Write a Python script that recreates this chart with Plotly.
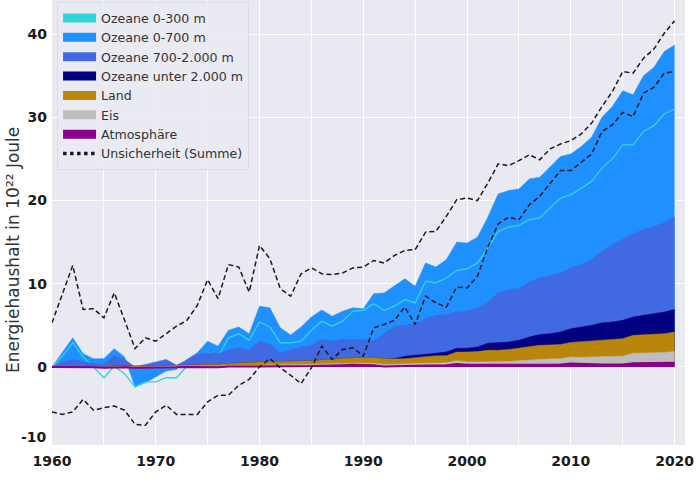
import plotly.graph_objects as go

# all values, in 10^22 J, each series is the cumulated top of its layer
years = list(range(1960, 2021))

total_0_700 = [0, 1.8, 3.5, 1.6, 1.0, 1.0, 2.2, 1.2, -2.4, -1.9,
               -1.2, -0.5, -0.3, 0.9, 1.7, 3.1, 2.5, 4.4, 4.8, 4.0,
               7.3, 7.1, 4.7, 3.85, 4.8, 6.0, 6.85, 6.1, 6.7, 7.1,
               7.0, 8.8, 8.9, 9.7, 10.6, 9.7, 12.5, 12.0, 12.9, 15.0,
               14.9, 15.6, 18.0, 20.8, 21.2, 21.4, 22.6, 22.8, 24.1, 25.3,
               25.6, 26.5, 27.6, 30.0, 31.3, 33.2, 32.7, 35.0, 36.0, 37.9,
               38.7]
total_0_300 = [0, 1.3, 2.9, 1.2, 0.0, -1.3, 0.1, -0.8, -2.4, -1.8,
               -1.8, -1.3, -1.3, 0.1, 0.5, 1.8, 1.2, 3.5, 4.0, 3.2,
               5.4, 4.8, 2.9, 2.9, 3.1, 4.4, 5.5, 4.9, 5.5, 6.7,
               6.8, 7.6, 6.8, 7.3, 8.1, 7.7, 10.3, 10.1, 10.7, 11.6,
               11.8, 12.5, 14.3, 16.3, 16.8, 17.0, 17.7, 17.9, 19.1, 20.3,
               20.7, 21.5, 22.3, 23.9, 25.0, 26.7, 26.7, 28.3, 29.0, 30.4,
               31.0]
total_700_2000 = [0, 0.6, 0.9, 0.6, 0.4, 0.3, 1.3, 0.9, 0.0, 0.3,
                  0.6, 0.9, 0.2, 0.8, 1.5, 1.7, 1.6, 2.0, 2.3, 2.0,
                  3.1, 2.7, 1.7, 2.0, 2.4, 2.6, 3.3, 3.1, 3.3, 3.3,
                  3.3, 3.1, 4.0, 4.9, 5.0, 5.2, 5.8, 6.2, 6.3, 6.6,
                  6.7, 7.1, 7.8, 8.9, 9.3, 9.4, 10.2, 10.7, 11.0, 11.3,
                  11.9, 12.3, 12.9, 13.9, 14.7, 15.4, 16.0, 16.5, 16.9, 17.3,
                  18.0]
total_unter_2000 = [0, 0, 0, 0, 0, 0, 0.1, 0.1, 0.1, 0.1,
                    0.15, 0.15, 0.2, 0.2, 0.25, 0.3, 0.3, 0.4, 0.45, 0.5,
                    0.6, 0.7, 0.65, 0.7, 0.7, 0.75, 0.85, 0.9, 1.05, 1.1,
                    1.15, 1.15, 1.0, 1.0, 1.3, 1.4, 1.55, 1.65, 1.8, 2.25,
                    2.25, 2.4, 2.85, 2.9, 3.0, 3.2, 3.6, 3.9, 4.0, 4.2,
                    4.6, 4.8, 5.0, 5.3, 5.4, 5.6, 6.0, 6.2, 6.4, 6.6,
                    6.9]
total_land = [0, 0, 0, 0, 0, 0, 0.1, 0.1, 0.1, 0.1,
              0.15, 0.15, 0.2, 0.2, 0.25, 0.3, 0.3, 0.4, 0.45, 0.5,
              0.6, 0.7, 0.65, 0.7, 0.7, 0.75, 0.85, 0.9, 1.05, 1.1,
              1.15, 1.15, 1.0, 0.95, 1.0, 1.1, 1.25, 1.35, 1.35, 1.8,
              1.8, 1.85, 2.0, 2.0, 2.1, 2.25, 2.4, 2.6, 2.65, 2.7,
              2.95, 3.05, 3.1, 3.2, 3.35, 3.4, 3.8, 3.85, 3.95, 4.0,
              4.2]
total_eis = [0, 0, 0, 0, 0, -0.05, 0, 0, 0, 0,
             0.05, 0.05, 0.05, 0.1, 0.1, 0.1, 0.1, 0.15, 0.15, 0.2,
             0.2, 0.25, 0.25, 0.25, 0.3, 0.3, 0.35, 0.35, 0.4, 0.45,
             0.45, 0.45, 0.3, 0.3, 0.35, 0.4, 0.45, 0.45, 0.5, 0.75,
             0.6, 0.6, 0.6, 0.6, 0.65, 0.75, 0.85, 0.9, 0.95, 1.0,
             1.2, 1.15, 1.2, 1.25, 1.25, 1.3, 1.65, 1.65, 1.7, 1.75,
             1.85]
total_atmosphaere = [0, 0, -0.05, -0.05, -0.05, -0.1, -0.05, -0.05, -0.1, -0.1,
                     -0.05, -0.05, -0.05, 0, 0, 0, -0.05, 0.05, 0.05, 0.05,
                     0.1, 0.1, 0.1, 0.1, 0.1, 0.1, 0.15, 0.15, 0.2, 0.25,
                     0.25, 0.2, 0.05, 0.05, 0.1, 0.15, 0.15, 0.15, 0.2, 0.35,
                     0.25, 0.25, 0.25, 0.25, 0.25, 0.3, 0.3, 0.3, 0.3, 0.3,
                     0.4, 0.35, 0.3, 0.3, 0.3, 0.3, 0.45, 0.45, 0.45, 0.45,
                     0.5]
unsicherheit_oben = [5.3, 8.8, 12.2, 6.9, 7.0, 5.9, 8.9, 5.6, 2.2, 3.5,
                     3.1, 4.0, 4.9, 5.6, 7.4, 10.5, 8.2, 12.3, 12.0, 9.0,
                     14.6, 13.0, 9.4, 8.5, 11.2, 11.9, 11.2, 11.1, 11.3, 11.9,
                     12.0, 12.8, 12.5, 13.4, 14.0, 14.1, 16.2, 16.3, 18.1, 20.1,
                     20.3, 20.0, 22.1, 24.4, 24.2, 24.8, 25.5, 24.9, 26.2, 26.8,
                     27.2, 28.0, 29.3, 31.3, 33.1, 35.5, 35.3, 37.1, 38.2, 40.1,
                     41.6]
unsicherheit_unten = [-5.4, -5.7, -5.4, -3.9, -5.2, -4.9, -4.7, -5.2, -6.9, -7.0,
                      -5.4, -4.6, -5.7, -5.7, -5.7, -4.2, -3.4, -3.4, -2.2, -1.5,
                      0.0, 1.0, -0.1, -1.0, -2.0, -0.1, 2.5, 0.9, 2.1, 2.3,
                      1.3, 4.7, 5.1, 5.6, 7.2, 5.1, 8.5, 7.7, 7.2, 9.6,
                      9.5, 10.9, 14.4, 17.2, 18.0, 17.7, 19.5, 20.5, 22.0, 23.6,
                      23.6, 24.6, 25.6, 28.3, 29.1, 30.6, 30.1, 32.9, 33.6, 35.3,
                      35.5]

x_ticks = [1960, 1970, 1980, 1990, 2000, 2010, 2020]
y_ticks = [0, 10, 20, 30, 40]

TICK_FONT = dict(family="DejaVu Sans", size=14, color="#1a1a1a")

fig = go.Figure()


def add_area(values, color):
    fig.add_trace(go.Scatter(x=years, y=values, mode="lines", fill="tozeroy", fillcolor=color,
                             line=dict(color=color, width=0.5), showlegend=False, hoverinfo="skip"))


# the layers are drawn biggest first, each one down to zero
add_area(total_0_700, "#1E90FF")
fig.add_trace(go.Scatter(x=years, y=total_0_300, mode="lines", showlegend=False,
                         line=dict(color="#30D5D8", width=1.3)))
add_area(total_700_2000, "#4169E1")
add_area(total_unter_2000, "#000080")
add_area(total_land, "#B8860B")
add_area(total_eis, "#BEBEBE")
add_area(total_atmosphaere, "#8B008B")
fig.add_trace(go.Scatter(x=years, y=total_atmosphaere, mode="lines", showlegend=False,
                         line=dict(color="#8B008B", width=2)))

for bound in (unsicherheit_oben, unsicherheit_unten):
    fig.add_trace(go.Scatter(x=years, y=bound, mode="lines", showlegend=False,
                             line=dict(color="#1a1a1a", width=1.5, dash="5px,3px")))

# legend only entries, the thick lines look like the original keys
legend_items = [("Ozeane 0-300 m", "#30D5D8"), ("Ozeane 0-700 m", "#1E90FF"),
                ("Ozeane 700-2.000 m", "#4169E1"), ("Ozeane unter 2.000 m", "#000080"),
                ("Land", "#B8860B"), ("Eis", "#BEBEBE"), ("Atmosphäre", "#8B008B")]
for name, color in legend_items:
    fig.add_trace(go.Scatter(x=[None], y=[None], mode="lines", name=name,
                             line=dict(color=color, width=9)))
fig.add_trace(go.Scatter(x=[None], y=[None], mode="lines", name="Unsicherheit (Summe)",
                         line=dict(color="#1a1a1a", width=3.5, dash="dot")))

fig.update_layout(
    width=700, height=479,
    margin=dict(l=52, r=15, t=0, b=34),
    paper_bgcolor="white",
    plot_bgcolor="#E9E9F2",
    font=dict(family="DejaVu Sans", color="#333333"),
    legend=dict(x=0.008, y=0.995, xanchor="left", yanchor="top", traceorder="normal",
                bgcolor="rgba(234,234,242,0.85)", bordercolor="#DCDCE6", borderwidth=1,
                itemwidth=33, font=dict(size=12.6, color="#333333")),
    xaxis=dict(range=[1960, 2021], tickvals=x_ticks, showgrid=True, gridcolor="white", gridwidth=1,
               minor=dict(dtick=5, tick0=1960, showgrid=True, gridcolor="white", gridwidth=1),
               zeroline=False, showline=False, ticks="", automargin=False,
               tickfont=dict(TICK_FONT, weight="bold"), ticklabelstandoff=6),
    yaxis=dict(range=[-9.38, 44.1], tickvals=y_ticks, showgrid=True, gridcolor="white", gridwidth=1,
               zeroline=False, showline=False, ticks="", automargin=False,
               tickfont=dict(TICK_FONT, weight="bold"), ticklabelstandoff=4),
    annotations=[
        dict(text="-10", xref="paper", yref="y", x=0, y=-8.4, xanchor="right",
             xshift=-3, showarrow=False, font=dict(TICK_FONT, weight="bold")),
        # axis title sits lower than the axis middle, so it is an annotation
        dict(text="Energiehaushalt in 10²² Joule", xref="paper", yref="paper", x=0, y=0.438,
             xanchor="center", yanchor="middle", xshift=-39, textangle=-90, showarrow=False,
             font=dict(size=17, color="#333333")),
    ],
)

# the page has a default 8px body margin which would push the whole figure off
fig.write_html("out.html", post_script="document.body.style.margin = '0';",
               config=dict(displayModeBar=False))
